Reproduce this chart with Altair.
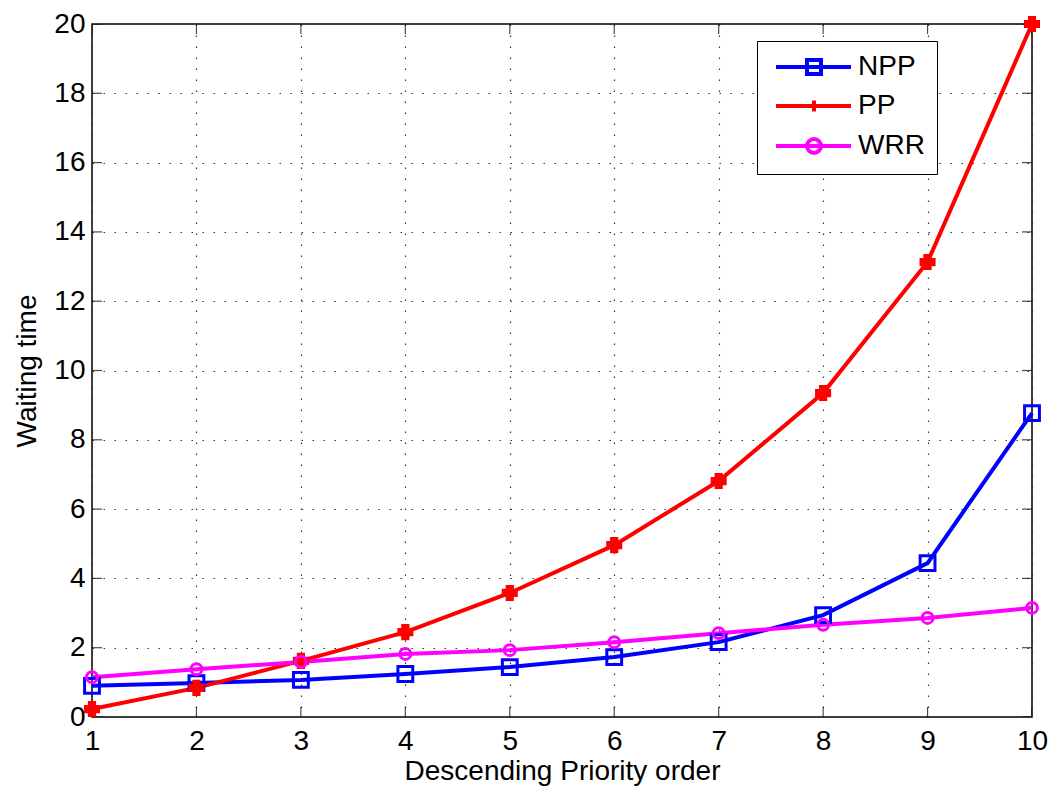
import altair as alt
import pandas as pd

x_order = [1, 2, 3, 4, 5, 6, 7, 8, 9, 10]
npp = [0.90, 0.98, 1.07, 1.24, 1.44, 1.73, 2.16, 2.94, 4.44, 8.77]
pp = [0.23, 0.84, 1.62, 2.45, 3.58, 4.96, 6.81, 9.35, 13.13, 20.0]
wrr = [1.15, 1.38, 1.59, 1.82, 1.93, 2.16, 2.42, 2.66, 2.86, 3.15]
series_names = ["NPP", "PP", "WRR"]
colors = ["#0000ff", "#ff0000", "#ff00ff"]
x_ticks = [1, 2, 3, 4, 5, 6, 7, 8, 9, 10]
y_ticks = [0, 2, 4, 6, 8, 10, 12, 14, 16, 18, 20]

rows = []
for name, vals in zip(series_names, [npp, pp, wrr]):
    for xv, yv in zip(x_order, vals):
        rows.append({"order": xv, "value": yv, "series": name})
df = pd.DataFrame(rows)

FONT = "Liberation Sans"
FS = 28
W, H = 940, 693

xs = alt.Scale(domain=[1, 10], nice=False, zero=False)
ys = alt.Scale(domain=[0, 20], nice=False)

common = dict(grid=True, ticks=False, domain=False, gridDash=[1.5, 9.5], gridColor="#333333",
              gridOpacity=1, gridWidth=1.2, labelFont=FONT, titleFont=FONT,
              titleFontWeight="normal", labelColor="black", titleColor="black",
              labelFlush=False, format="d", labelFontSize=FS, titleFontSize=FS)
xaxis = alt.Axis(values=x_ticks, title="Descending Priority order",
                 labelPadding=10, titlePadding=2, **common)
yaxis = alt.Axis(values=y_ticks, title="Waiting time",
                 labelPadding=7, titlePadding=12, **common)

cscale = alt.Scale(domain=series_names, range=colors)

base = alt.Chart(df)

lines = base.mark_line(strokeWidth=4, clip=False).encode(
    x=alt.X("order:Q", scale=xs, axis=xaxis),
    y=alt.Y("value:Q", scale=ys, axis=yaxis),
    color=alt.Color("series:N", scale=cscale, legend=None),
    detail="series:N",
)

points = base.mark_point(strokeWidth=3, opacity=1).encode(
    x=alt.X("order:Q", scale=xs),
    y=alt.Y("value:Q", scale=ys),
    color=alt.Color("series:N", scale=cscale, legend=None),
    shape=alt.Shape("series:N", scale=alt.Scale(domain=series_names,
                                                range=["square", "cross", "circle"]), legend=None),
    size=alt.Size("series:N", scale=alt.Scale(domain=series_names, range=[220, 120, 270]), legend=None),
    fill=alt.Fill("series:N", scale=alt.Scale(domain=series_names,
                                              range=["transparent", "#ff0000", "transparent"]), legend=None),
)

leg_paths = [
    "M-0.7,0H6.8M2.4,-0.7H3.8V0.7H2.4Z",
    "M-0.7,0H6.8M3.1,-0.55V0.55M2.7,0H3.5",
    "M-0.7,0H6.8M3.8,0A0.7,0.7 0 1,1 2.4,0A0.7,0.7 0 1,1 3.8,0Z",
]

legend_layer = base.mark_point(opacity=0, filled=False).encode(
    x=alt.X("order:Q", scale=xs),
    y=alt.Y("value:Q", scale=ys),
    color=alt.Color("series:N", scale=cscale, title=None,
                    legend=alt.Legend(orient="none", legendX=665, legendY=17,
                                      title=None, symbolSize=400, symbolStrokeWidth=4,
                                      symbolOpacity=1, symbolFillColor="transparent",
                                      labelFontSize=FS, labelFont=FONT, labelColor="black",
                                      labelOffset=61, padding=12, rowPadding=10,
                                      strokeColor="black", fillColor="white",
                                      cornerRadius=0, labelLimit=300)),
    shape=alt.Shape("series:N", scale=alt.Scale(domain=series_names, range=leg_paths),
                    title=None),
)

def tick_layer(field_vals, orient):
    d = pd.DataFrame({"v": field_vals})
    layers = []
    if orient == "x":
        for edge in [0, 20]:
            layers.append(alt.Chart(d).mark_tick(orient="vertical", size=20, thickness=1.2,
                                                 color="black", clip=True).encode(
                x=alt.X("v:Q", scale=xs), y=alt.Y(datum=edge, scale=ys)))
    else:
        for edge in [1, 10]:
            layers.append(alt.Chart(d).mark_tick(orient="horizontal", size=20, thickness=1.2,
                                                 color="black", clip=True).encode(
                y=alt.Y("v:Q", scale=ys), x=alt.X(datum=edge, scale=xs)))
    return layers

ticks = tick_layer(x_ticks, "x") + tick_layer(y_ticks, "y")

chart = alt.layer(lines, *ticks, points, legend_layer).resolve_scale(
    color="independent", shape="independent", size="independent", fill="independent"
).properties(
    width=W, height=H,
    autosize=alt.AutoSizeParams(type="none"),
    padding={"left": 84, "top": 16, "right": 17, "bottom": 72},
    background="white",
).configure_view(stroke="black", strokeWidth=1.5)

chart.save("out.html", embed_options={"renderer": "svg", "actions": False})
